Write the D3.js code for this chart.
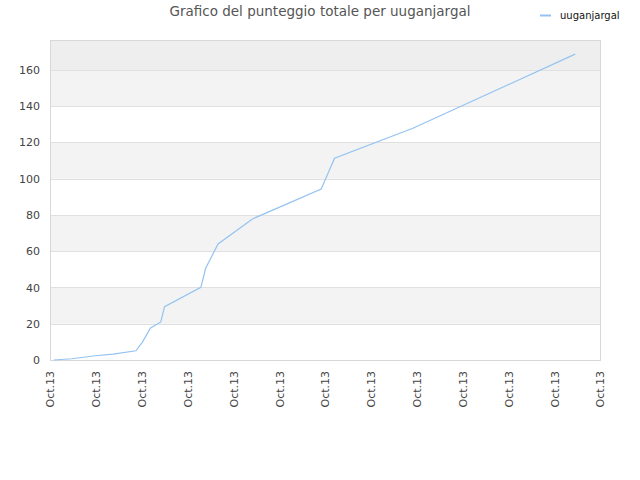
<!DOCTYPE html>
<html>
<head>
<meta charset="utf-8">
<script src="https://cdn.jsdelivr.net/npm/d3@7"></script>
<style>
  body { margin: 0; background: #fff; }
  svg { display: block; font-family: "DejaVu Sans", sans-serif; }
</style>
</head>
<body>
<svg id="chart" width="640" height="480"></svg>
<script>
// data
var seriesName = "uuganjargal";
var chartTitle = "Grafico del punteggio totale per uuganjargal";
var dates = ["2013-10-01 04:00", "2013-10-01 23:00", "2013-10-02 21:00", "2013-10-03 18:00",
    "2013-10-04 18:00", "2013-10-05 01:00", "2013-10-05 09:00", "2013-10-05 20:00",
    "2013-10-06 00:00", "2013-10-07 14:00", "2013-10-07 19:00", "2013-10-08 08:00",
    "2013-10-09 20:00", "2013-10-12 20:00", "2013-10-13 10:00", "2013-10-16 20:00",
    "2013-10-23 22:00"];
var scores = [0, 0.7, 2.2, 3.2, 5.1, 10, 17.5, 21, 29.4, 40.1, 50.6, 64, 77.8, 94.3, 111.3, 127.8, 168.7];
var yTicks = [0, 20, 40, 60, 80, 100, 120, 140, 160];

var parseTime = d3.timeParse("%Y-%m-%d %H:%M");
var points = dates.map(function (d, i) {
    return { date: parseTime(d), value: scores[i] };
});

var margin = { top: 40, right: 40, bottom: 120, left: 50 };
var width = 640 - margin.left - margin.right;
var height = 480 - margin.top - margin.bottom;

var svg = d3.select("#chart");
var g = svg.append("g")
    .attr("transform", "translate(" + margin.left + "," + margin.top + ")");

var x = d3.scaleTime()
    .domain([parseTime("2013-10-01 00:00"), parseTime("2013-10-25 00:00")])
    .range([0, width]);
var y = d3.scaleLinear()
    .domain([0, 176.5])
    .range([height, 0]);

// alternating bands
var bandEdges = yTicks.concat([176.5]);
var bands = [];
for (var i = 0; i < bandEdges.length - 1; i++) {
    bands.push({ lo: bandEdges[i], hi: bandEdges[i + 1], idx: i });
}
g.selectAll(".band")
    .data(bands)
    .enter()
    .append("rect")
    .attr("class", "band")
    .attr("x", 0)
    .attr("width", width)
    .attr("y", function (d) { return y(d.hi); })
    .attr("height", function (d) { return y(d.lo) - y(d.hi); })
    .style("fill", function (d) {
        if (d.idx == bands.length - 1) return "#eeeeee";
        return d.idx % 2 == 1 ? "#f3f3f3" : "#ffffff";
    });

// grid lines
g.selectAll(".grid")
    .data(yTicks.slice(1))
    .enter()
    .append("line")
    .attr("x1", 0)
    .attr("x2", width)
    .attr("y1", function (d) { return Math.round(y(d)) + 0.5; })
    .attr("y2", function (d) { return Math.round(y(d)) + 0.5; })
    .style("stroke", "#e0e0e0");

// frame
g.append("rect")
    .attr("x", 0.5)
    .attr("y", 0.5)
    .attr("width", width)
    .attr("height", height)
    .style("fill", "none")
    .style("stroke", "#d8d8d8");

// y axis
var yAxis = d3.axisLeft(y).tickValues(yTicks).tickSize(0).tickPadding(10);
g.append("g")
    .attr("class", "y axis")
    .call(yAxis)
    .call(function (a) { a.select(".domain").remove(); })
    .style("font-size", "11px")
    .style("font-family", "DejaVu Sans")
    .style("color", "#444");

// x axis
var xAxis = d3.axisBottom(x)
    .ticks(d3.timeDay.every(2))
    .tickFormat(d3.timeFormat("%b.%y"))
    .tickSize(0);
g.append("g")
    .attr("class", "x axis")
    .attr("transform", "translate(0," + height + ")")
    .call(xAxis)
    .call(function (a) { a.select(".domain").remove(); })
    .style("font-size", "11px")
    .style("font-family", "DejaVu Sans")
    .style("color", "#444")
    .call(function (a) {
        a.selectAll(".tick text")
            .attr("transform", "rotate(-90)")
            .attr("text-anchor", "end")
            .attr("x", -11)
            .attr("y", 0)
            .attr("dy", "0.35em");
    });

// score line
var line = d3.line()
    .x(function (d) { return x(d.date); })
    .y(function (d) { return y(d.value); });
g.append("path")
    .datum(points)
    .attr("d", line)
    .style("fill", "none")
    .style("stroke", "#94c3f2")
    .style("stroke-width", 1.2);

// title
svg.append("text")
    .attr("x", 320)
    .attr("y", 16)
    .attr("text-anchor", "middle")
    .style("font-size", "13.5px")
    .style("fill", "#555")
    .text(chartTitle);

// legend
svg.append("line")
    .attr("x1", 540).attr("x2", 551)
    .attr("y1", 15.5).attr("y2", 15.5)
    .style("stroke", "#94c3f2")
    .style("stroke-width", 2);
svg.append("text")
    .attr("x", 560)
    .attr("y", 19)
    .style("font-size", "10px")
    .style("fill", "#111")
    .text(seriesName);
</script>
</body>
</html>
